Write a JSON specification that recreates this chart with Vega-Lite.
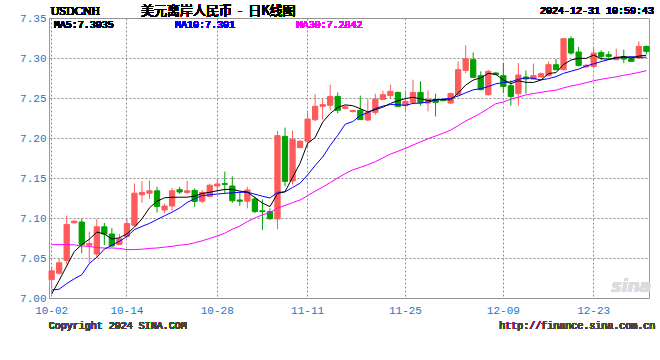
{
"$schema": "https://vega.github.io/schema/vega-lite/v6.json",
"width": 600,
"height": 280,
"autosize": {"type": "none"},
"padding": {"left": 49, "top": 18, "right": 11, "bottom": 62},
"background": "white",
"config": {
  "view": {"stroke": "#9a9a9a", "strokeWidth": 1},
  "axis": {"labelFont": "Liberation Mono", "labelFontSize": 11, "labelColor": "#1a78c8", "labelOverlap": false, "domain": false, "ticks": false, "gridColor": "#8c8c8c", "gridDash": [2, 2], "gridOpacity": 1, "gridWidth": 1, "title": null},
  "axisY": {"values": [7.0, 7.05, 7.1, 7.15, 7.2, 7.25, 7.3, 7.35], "format": ".2f", "labelPadding": 3, "grid": true, "labelOverlap": false, "labelBound": false}
},
"data": {"values": [
{"d":"2024-10-02","o":7.023,"h":7.039,"l":7.012,"c":7.034,"m5":7.005,"m10":7.010,"m30":7.0667},
{"d":"2024-10-03","o":7.031,"h":7.049,"l":7.029,"c":7.044,"m5":7.022,"m10":7.011,"m30":7.0667},
{"d":"2024-10-04","o":7.047,"h":7.103,"l":7.042,"c":7.092,"m5":7.040,"m10":7.018,"m30":7.0667},
{"d":"2024-10-05","o":7.094,"h":7.097,"l":7.093,"c":7.096,"m5":7.058,"m10":7.024,"m30":7.0665},
{"d":"2024-10-07","o":7.095,"h":7.099,"l":7.056,"c":7.067,"m5":7.0666,"m10":7.029,"m30":7.0650},
{"d":"2024-10-08","o":7.066,"h":7.083,"l":7.044,"c":7.068,"m5":7.0734,"m10":7.043,"m30":7.0645},
{"d":"2024-10-09","o":7.055,"h":7.099,"l":7.050,"c":7.089,"m5":7.0824,"m10":7.051,"m30":7.0630},
{"d":"2024-10-10","o":7.089,"h":7.094,"l":7.066,"c":7.080,"m5":7.0800,"m10":7.061,"m30":7.0625},
{"d":"2024-10-11","o":7.080,"h":7.0875,"l":7.064,"c":7.065,"m5":7.0738,"m10":7.066,"m30":7.0625},
{"d":"2024-10-12","o":7.067,"h":7.080,"l":7.066,"c":7.074,"m5":7.0752,"m10":7.0709,"m30":7.0620},
{"d":"2024-10-14","o":7.077,"h":7.099,"l":7.075,"c":7.093,"m5":7.0802,"m10":7.0768,"m30":7.0605},
{"d":"2024-10-15","o":7.091,"h":7.143,"l":7.089,"c":7.131,"m5":7.0886,"m10":7.0855,"m30":7.0605},
{"d":"2024-10-16","o":7.129,"h":7.146,"l":7.119,"c":7.132,"m5":7.0990,"m10":7.0895,"m30":7.0610},
{"d":"2024-10-17","o":7.131,"h":7.147,"l":7.124,"c":7.134,"m5":7.1128,"m10":7.0933,"m30":7.0620},
{"d":"2024-10-18","o":7.134,"h":7.139,"l":7.107,"c":7.1145,"m5":7.1209,"m10":7.0981,"m30":7.0625},
{"d":"2024-10-19","o":7.110,"h":7.118,"l":7.106,"c":7.115,"m5":7.1253,"m10":7.1028,"m30":7.0635},
{"d":"2024-10-21","o":7.115,"h":7.1375,"l":7.109,"c":7.134,"m5":7.1259,"m10":7.1073,"m30":7.0646},
{"d":"2024-10-22","o":7.1354,"h":7.139,"l":7.130,"c":7.1325,"m5":7.1260,"m10":7.1125,"m30":7.0660},
{"d":"2024-10-23","o":7.132,"h":7.1465,"l":7.130,"c":7.134,"m5":7.1260,"m10":7.1194,"m30":7.0670},
{"d":"2024-10-24","o":7.1345,"h":7.137,"l":7.114,"c":7.1208,"m5":7.1273,"m10":7.1241,"m30":7.0690},
{"d":"2024-10-25","o":7.121,"h":7.135,"l":7.119,"c":7.132,"m5":7.1307,"m10":7.1280,"m30":7.0715},
{"d":"2024-10-26","o":7.127,"h":7.142,"l":7.126,"c":7.141,"m5":7.1321,"m10":7.1290,"m30":7.0745},
{"d":"2024-10-28","o":7.140,"h":7.149,"l":7.133,"c":7.1425,"m5":7.1341,"m10":7.1300,"m30":7.0775},
{"d":"2024-10-29","o":7.143,"h":7.158,"l":7.131,"c":7.142,"m5":7.1357,"m10":7.1308,"m30":7.0810},
{"d":"2024-10-30","o":7.140,"h":7.152,"l":7.119,"c":7.1216,"m5":7.1358,"m10":7.1315,"m30":7.0860},
{"d":"2024-10-31","o":7.1225,"h":7.133,"l":7.115,"c":7.121,"m5":7.1336,"m10":7.1321,"m30":7.0900},
{"d":"2024-11-01","o":7.121,"h":7.139,"l":7.112,"c":7.135,"m5":7.1324,"m10":7.1322,"m30":7.0955},
{"d":"2024-11-02","o":7.1238,"h":7.127,"l":7.106,"c":7.108,"m5":7.1255,"m10":7.1298,"m30":7.1000},
{"d":"2024-11-04","o":7.109,"h":7.1229,"l":7.085,"c":7.108,"m5":7.1187,"m10":7.1272,"m30":7.1040},
{"d":"2024-11-05","o":7.108,"h":7.112,"l":7.098,"c":7.099,"m5":7.1142,"m10":7.1250,"m30":7.1067},
{"d":"2024-11-06","o":7.0988,"h":7.209,"l":7.086,"c":7.203,"m5":7.1306,"m10":7.1321,"m30":7.1123},
{"d":"2024-11-07","o":7.202,"h":7.213,"l":7.1396,"c":7.1458,"m5":7.1328,"m10":7.1326,"m30":7.1157},
{"d":"2024-11-08","o":7.1462,"h":7.209,"l":7.1417,"c":7.198,"m5":7.1508,"m10":7.1381,"m30":7.1192},
{"d":"2024-11-09","o":7.188,"h":7.197,"l":7.187,"c":7.196,"m5":7.1684,"m10":7.1435,"m30":7.1226},
{"d":"2024-11-11","o":7.196,"h":7.232,"l":7.1875,"c":7.2237,"m5":7.1933,"m10":7.1538,"m30":7.1278},
{"d":"2024-11-12","o":7.2229,"h":7.255,"l":7.221,"c":7.2396,"m5":7.2006,"m10":7.1656,"m30":7.1335},
{"d":"2024-11-13","o":7.2396,"h":7.249,"l":7.2229,"c":7.2417,"m5":7.2198,"m10":7.1763,"m30":7.1386},
{"d":"2024-11-14","o":7.2408,"h":7.2667,"l":7.2346,"c":7.252,"m5":7.2306,"m10":7.1907,"m30":7.1443},
{"d":"2024-11-15","o":7.252,"h":7.257,"l":7.231,"c":7.2346,"m5":7.2383,"m10":7.2033,"m30":7.1500},
{"d":"2024-11-16","o":7.237,"h":7.241,"l":7.236,"c":7.239,"m5":7.2414,"m10":7.2173,"m30":7.1555},
{"d":"2024-11-17","o":7.233,"h":7.235,"l":7.232,"c":7.2345,"m5":7.2404,"m10":7.2205,"m30":7.1602},
{"d":"2024-11-18","o":7.2346,"h":7.253,"l":7.223,"c":7.223,"m5":7.2366,"m10":7.2282,"m30":7.1633},
{"d":"2024-11-19","o":7.2225,"h":7.249,"l":7.221,"c":7.232,"m5":7.2326,"m10":7.2316,"m30":7.1666},
{"d":"2024-11-20","o":7.232,"h":7.2554,"l":7.229,"c":7.2487,"m5":7.2354,"m10":7.2369,"m30":7.1704},
{"d":"2024-11-21","o":7.248,"h":7.2591,"l":7.2479,"c":7.2541,"m5":7.2385,"m10":7.2399,"m30":7.1751},
{"d":"2024-11-22","o":7.253,"h":7.2666,"l":7.250,"c":7.2583,"m5":7.2432,"m10":7.2418,"m30":7.1799},
{"d":"2024-11-23","o":7.257,"h":7.258,"l":7.2395,"c":7.2395,"m5":7.2465,"m10":7.2416,"m30":7.1834},
{"d":"2024-11-25","o":7.2404,"h":7.2579,"l":7.2345,"c":7.2458,"m5":7.2493,"m10":7.2409,"m30":7.1871},
{"d":"2024-11-26","o":7.2445,"h":7.2729,"l":7.243,"c":7.257,"m5":7.2509,"m10":7.2432,"m30":7.1912},
{"d":"2024-11-27","o":7.257,"h":7.2708,"l":7.2404,"c":7.2441,"m5":7.2490,"m10":7.2437,"m30":7.1952},
{"d":"2024-11-28","o":7.2437,"h":7.2595,"l":7.2333,"c":7.2479,"m5":7.2469,"m10":7.2450,"m30":7.1991},
{"d":"2024-11-29","o":7.2479,"h":7.2554,"l":7.227,"c":7.2445,"m5":7.2479,"m10":7.2472,"m30":7.2025},
{"d":"2024-11-30","o":7.2479,"h":7.249,"l":7.246,"c":7.2466,"m5":7.2480,"m10":7.2487,"m30":7.2060},
{"d":"2024-12-01","o":7.2437,"h":7.2567,"l":7.243,"c":7.2554,"m5":7.2477,"m10":7.2494,"m30":7.2099},
{"d":"2024-12-02","o":7.2541,"h":7.2958,"l":7.2529,"c":7.2854,"m5":7.2560,"m10":7.2525,"m30":7.2154},
{"d":"2024-12-03","o":7.2845,"h":7.3158,"l":7.2812,"c":7.2991,"m5":7.2662,"m10":7.2565,"m30":7.2213},
{"d":"2024-12-04","o":7.2979,"h":7.307,"l":7.2749,"c":7.2758,"m5":7.2724,"m10":7.2602,"m30":7.2260},
{"d":"2024-12-05","o":7.2779,"h":7.2833,"l":7.2596,"c":7.2604,"m5":7.2752,"m10":7.2616,"m30":7.2311},
{"d":"2024-12-06","o":7.2541,"h":7.2854,"l":7.2529,"c":7.2833,"m5":7.2808,"m10":7.2643,"m30":7.2369},
{"d":"2024-12-07","o":7.2812,"h":7.2825,"l":7.2790,"c":7.2792,"m5":7.2796,"m10":7.2677,"m30":7.2429},
{"d":"2024-12-09","o":7.2779,"h":7.2937,"l":7.2562,"c":7.2645,"m5":7.2726,"m10":7.2694,"m30":7.2450},
{"d":"2024-12-10","o":7.2654,"h":7.272,"l":7.2404,"c":7.252,"m5":7.2679,"m10":7.2702,"m30":7.2485},
{"d":"2024-12-11","o":7.2554,"h":7.2937,"l":7.2404,"c":7.2787,"m5":7.2715,"m10":7.2734,"m30":7.2512},
{"d":"2024-12-12","o":7.2762,"h":7.2845,"l":7.2554,"c":7.2738,"m5":7.2696,"m10":7.2752,"m30":7.2538},
{"d":"2024-12-13","o":7.2737,"h":7.2929,"l":7.2729,"c":7.2779,"m5":7.2694,"m10":7.2745,"m30":7.2556},
{"d":"2024-12-14","o":7.2763,"h":7.282,"l":7.2760,"c":7.2804,"m5":7.2725,"m10":7.2726,"m30":7.2570},
{"d":"2024-12-16","o":7.2779,"h":7.2958,"l":7.277,"c":7.2916,"m5":7.2805,"m10":7.2742,"m30":7.2586},
{"d":"2024-12-17","o":7.2916,"h":7.2988,"l":7.2845,"c":7.2854,"m5":7.2818,"m10":7.2767,"m30":7.2598},
{"d":"2024-12-18","o":7.2854,"h":7.325,"l":7.2845,"c":7.3241,"m5":7.2919,"m10":7.2808,"m30":7.2627},
{"d":"2024-12-19","o":7.3241,"h":7.327,"l":7.3041,"c":7.3062,"m5":7.2975,"m10":7.2835,"m30":7.2650},
{"d":"2024-12-20","o":7.3075,"h":7.3137,"l":7.2895,"c":7.2908,"m5":7.2996,"m10":7.2861,"m30":7.2669},
{"d":"2024-12-21","o":7.2887,"h":7.2925,"l":7.2885,"c":7.2908,"m5":7.2995,"m10":7.2900,"m30":7.2691},
{"d":"2024-12-23","o":7.2895,"h":7.3137,"l":7.2875,"c":7.3062,"m5":7.3036,"m10":7.2927,"m30":7.2716},
{"d":"2024-12-24","o":7.307,"h":7.3095,"l":7.297,"c":7.302,"m5":7.2992,"m10":7.2955,"m30":7.2734},
{"d":"2024-12-25","o":7.3041,"h":7.3083,"l":7.2979,"c":7.302,"m5":7.2984,"m10":7.2980,"m30":7.2750},
{"d":"2024-12-26","o":7.2979,"h":7.3116,"l":7.2975,"c":7.3012,"m5":7.3004,"m10":7.3000,"m30":7.2764},
{"d":"2024-12-27","o":7.3012,"h":7.3104,"l":7.2937,"c":7.2987,"m5":7.3020,"m10":7.3007,"m30":7.2784},
{"d":"2024-12-28","o":7.2991,"h":7.3012,"l":7.2955,"c":7.2958,"m5":7.2999,"m10":7.3018,"m30":7.2800},
{"d":"2024-12-30","o":7.300,"h":7.3207,"l":7.2987,"c":7.3145,"m5":7.3024,"m10":7.3008,"m30":7.2819},
{"d":"2024-12-31","o":7.3145,"h":7.3154,"l":7.305,"c":7.3083,"m5":7.3035,"m10":7.3010,"m30":7.2842}
]},
"encoding": {
  "x": {"field": "d", "type": "ordinal",
        "scale": {"type": "band", "paddingInner": 0.3, "paddingOuter": 0},
        "axis": {"values": ["2024-10-02","2024-10-14","2024-10-28","2024-11-11","2024-11-25","2024-12-09","2024-12-23"],
                 "labelExpr": "substring(datum.value, 5)", "labelAngle": 0, "bandPosition": 0.5,
                 "labelPadding": 6, "grid": true}}
},
"layer": [
  {"mark": {"type": "rule", "strokeWidth": 1},
   "encoding": {
     "y": {"field": "l", "type": "quantitative",
           "scale": {"domain": [7.0, 7.35], "nice": false, "zero": false}},
     "y2": {"field": "h"},
     "color": {"condition": {"test": "datum.c >= datum.o", "value": "#ff5a5a"}, "value": "#00a000"}
   }},
  {"mark": {"type": "bar", "strokeWidth": 1},
   "encoding": {
     "y": {"field": "o", "type": "quantitative"},
     "y2": {"field": "c"},
     "color": {"condition": {"test": "datum.c >= datum.o", "value": "#ff5a5a"}, "value": "#00a000"},
     "stroke": {"condition": {"test": "datum.c >= datum.o", "value": "#ff5a5a"}, "value": "#00a000"}
   }},
  {"mark": {"type": "line", "color": "#ff00ff", "strokeWidth": 1},
   "encoding": {"y": {"field": "m30", "type": "quantitative"}}},
  {"mark": {"type": "line", "color": "#0000ff", "strokeWidth": 1},
   "encoding": {"y": {"field": "m10", "type": "quantitative"}}},
  {"mark": {"type": "line", "color": "#000000", "strokeWidth": 1},
   "encoding": {"y": {"field": "m5", "type": "quantitative"}}},
  {"mark": {"type": "text", "text": "USDCNH", "align": "left", "baseline": "middle", "font": "Liberation Serif", "fontSize": 12, "color": "#000000", "dx": -1},
   "encoding": {"x": {"datum": "2024-10-02", "type": "ordinal"}, "y": {"datum": 7.3591, "type": "quantitative"}}},
  {"mark": {"type": "text", "text": "美元离岸人民币\u00a0\u00a0-\u00a0\u00a0日K线图", "align": "left", "baseline": "middle", "font": "Noto Sans CJK SC", "fontSize": 13, "fontWeight": "normal", "color": "#000000", "dx": -1},
   "encoding": {"x": {"datum": "2024-10-16", "type": "ordinal"}, "y": {"datum": 7.3591, "type": "quantitative"}}},
  {"mark": {"type": "text", "text": "2024-12-31 10:59:43", "align": "left", "baseline": "middle", "font": "Liberation Mono", "fontSize": 10, "color": "#000000", "dx": -1},
   "encoding": {"x": {"datum": "2024-12-14", "type": "ordinal"}, "y": {"datum": 7.3591, "type": "quantitative"}}},
  {"mark": {"type": "text", "text": "MA5:7.3035", "align": "left", "baseline": "middle", "font": "Liberation Mono", "fontSize": 10, "color": "#000000", "dx": 2},
   "encoding": {"x": {"datum": "2024-10-02", "type": "ordinal"}, "y": {"datum": 7.3416, "type": "quantitative"}}},
  {"mark": {"type": "text", "text": "MA10:7.301", "align": "left", "baseline": "middle", "font": "Liberation Mono", "fontSize": 10, "color": "#0000ff", "dx": 3},
   "encoding": {"x": {"datum": "2024-10-21", "type": "ordinal"}, "y": {"datum": 7.3416, "type": "quantitative"}}},
  {"mark": {"type": "text", "text": "MA30:7.2842", "align": "left", "baseline": "middle", "font": "Liberation Mono", "fontSize": 10, "color": "#ff00ff", "dx": 4},
   "encoding": {"x": {"datum": "2024-11-08", "type": "ordinal"}, "y": {"datum": 7.3416, "type": "quantitative"}}},
  {"mark": {"type": "text", "text": "sina", "align": "center", "baseline": "middle", "font": "DejaVu Sans", "fontSize": 17, "fontStyle": "italic", "fontWeight": "bold", "color": "#dcdcdc"},
   "encoding": {"x": {"datum": "2024-12-28", "type": "ordinal"}, "y": {"datum": 7.0135, "type": "quantitative"}}},
  {"mark": {"type": "text", "text": "Copyright 2024 SINA.COM", "align": "left", "baseline": "middle", "font": "Liberation Mono", "fontSize": 10, "color": "#444444", "dx": -3},
   "encoding": {"x": {"datum": "2024-10-02", "type": "ordinal"}, "y": {"datum": 6.965, "type": "quantitative"}}},
  {"mark": {"type": "text", "text": "http://finance.sina.com.cn", "align": "right", "baseline": "middle", "font": "Liberation Mono", "fontSize": 10, "color": "#444444", "dx": 9},
   "encoding": {"x": {"datum": "2024-12-31", "type": "ordinal"}, "y": {"datum": 6.965, "type": "quantitative"}}}
]
}
